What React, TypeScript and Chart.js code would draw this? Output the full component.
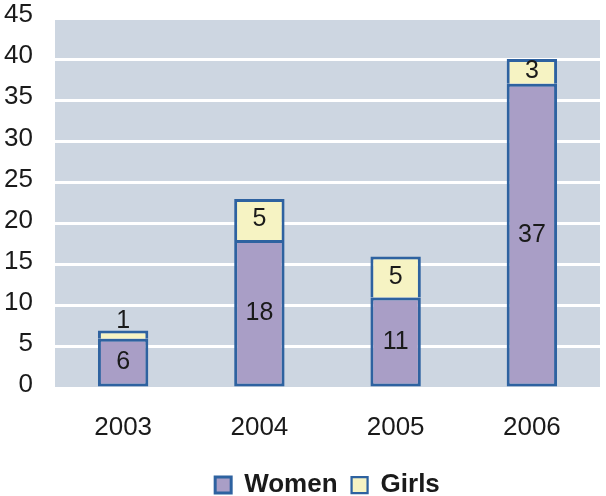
import React, { useEffect, useRef } from "react";
import { Chart, registerables } from "chart.js";

Chart.register(...registerables);

const categories = ["2003", "2004", "2005", "2006"];
const women = [6, 18, 11, 37];
const girls = [1, 5, 5, 3];
const yTicks = [0, 5, 10, 15, 20, 25, 30, 35, 40, 45];

const FONT = "'Liberation Sans', Arial, sans-serif";

const bgPlugin = {
  id: "plotBg",
  beforeDraw(chart: any) {
    const { ctx, chartArea } = chart;
    ctx.save();
    ctx.fillStyle = "#CDD6E1";
    ctx.fillRect(chartArea.left, chartArea.top, chartArea.right - chartArea.left, chartArea.bottom - chartArea.top);
    ctx.restore();
  },
};

const labelPlugin = {
  id: "segLabels",
  afterDatasetsDraw(chart: any) {
    const { ctx } = chart;
    ctx.save();
    ctx.font = `25px ${FONT}`;
    ctx.fillStyle = "#1a1a1a";
    ctx.textAlign = "center";
    ctx.textBaseline = "middle";
    chart.data.datasets.forEach((ds: any, di: number) => {
      const meta = chart.getDatasetMeta(di);
      meta.data.forEach((el: any, i: number) => {
        const v = ds.data[i];
        const top = Math.min(el.y, el.base);
        const h = Math.abs(el.base - el.y);
        let y = top + h / 2;
        if (h < 20) y = top - 9;
        ctx.fillText(String(v), el.x, y);
      });
    });
    ctx.restore();
  },
};

export default function App() {
  const ref = useRef<HTMLCanvasElement | null>(null);
  useEffect(() => {
    if (!ref.current) return;
    const chart = new Chart(ref.current, {
      type: "bar",
      data: {
        labels: categories,
        datasets: [
          {
            label: "Women",
            data: women,
            backgroundColor: "#A99EC6",
            borderColor: "#2E62A0",
            borderWidth: 3,
            borderSkipped: false,
            barPercentage: 0.37,
            categoryPercentage: 1,
          },
          {
            label: "Girls",
            data: girls,
            backgroundColor: "#F6F3C3",
            borderColor: "#2E62A0",
            borderWidth: { top: 3, left: 3, right: 3, bottom: 0 },
            borderSkipped: false,
            barPercentage: 0.37,
            categoryPercentage: 1,
          },
        ],
      },
      options: {
        animation: false,
        responsive: true,
        maintainAspectRatio: false,
        layout: { autoPadding: false, padding: { top: 18, right: 6, left: 0, bottom: -12 } },
        plugins: {
          tooltip: { enabled: false },
          legend: {
            position: "bottom",
            fullSize: false,
            labels: {
              boxWidth: 16,
              boxHeight: 16,
              padding: 14,
              color: "#1a1a1a",
              font: { family: FONT, size: 26, weight: "bold" },
            },
          },
        },
        scales: {
          x: {
            stacked: true,
            grid: { display: false, drawTicks: false },
            border: { display: false },
            ticks: { color: "#1a1a1a", font: { family: FONT, size: 26 }, padding: 24 },
            afterFit(scale: any) {
              scale.height = 70;
              scale.paddingLeft = 0;
              scale.paddingRight = 0;
            },
          },
          y: {
            stacked: true,
            min: 0,
            max: 45,
            afterBuildTicks(axis: any) {
              axis.ticks = yTicks.map((v) => ({ value: v }));
            },
            grid: { color: "#FFFFFF", lineWidth: 3, drawTicks: false },
            border: { display: false },
            ticks: {
              color: "#1a1a1a",
              font: { family: FONT, size: 26 },
              padding: 22,
              labelOffset: -3,
            },
            afterFit(scale: any) {
              scale.width = 55;
              scale.paddingTop = 0;
              scale.paddingBottom = 0;
            },
          },
        },
      },
      plugins: [bgPlugin, labelPlugin],
    });
    return () => chart.destroy();
  }, []);
  return (
    <div style={{ position: "fixed", left: 0, top: 0, width: 606, height: 496, background: "#fff" }}>
      <canvas ref={ref} />
    </div>
  );
}
